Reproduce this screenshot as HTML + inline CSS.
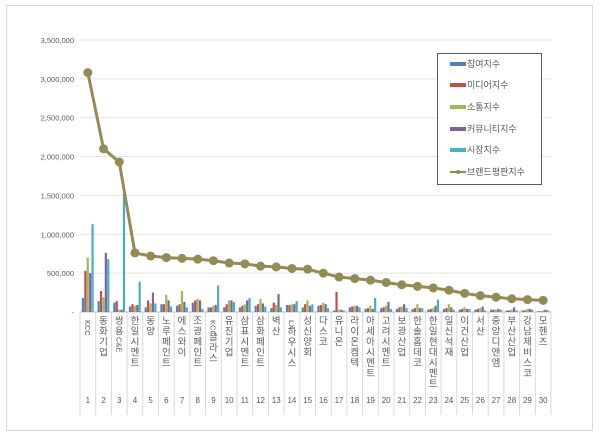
<!DOCTYPE html>
<html><head><meta charset="utf-8"><style>
body{margin:0;background:#fff;}
svg text{font-family:"Liberation Sans","Noto Sans CJK KR",sans-serif;}
</style></head><body>
<svg id="s" width="600" height="435" xmlns="http://www.w3.org/2000/svg">
<rect x="6.5" y="5.5" width="586" height="425" fill="#fff" stroke="#d9d9d9"/>
<g id="g"></g>
<rect x="437.5" y="53.5" width="104" height="131" fill="#fff" stroke="#595959"/>
<g font-size="9" fill="#595959">
<rect x="450" y="62" width="16" height="4" fill="#4f81bd"/><text x="467" y="67">참여지수</text>
<rect x="450" y="83" width="16" height="4" fill="#c0504d"/><text x="467" y="88">미디어지수</text>
<rect x="450" y="105" width="16" height="4" fill="#9bbb59"/><text x="467" y="110">소통지수</text>
<rect x="450" y="127" width="16" height="4" fill="#8064a2"/><text x="467" y="132">커뮤니티지수</text>
<rect x="450" y="148" width="16" height="4" fill="#4bacc6"/><text x="467" y="153">시장지수</text>
<line x1="450" y1="172" x2="466" y2="172" stroke="#948a54" stroke-width="2"/><circle cx="458" cy="172" r="2" fill="#948a54"/><text x="467" y="175">브랜드평판지수</text>
</g>
</svg>
<script>
var g=document.getElementById('g'),h='';
var y0=312,k=38.86/500;
function Y(v){return y0-v*k;}
var L=80,W=15.7;
for(var i=0;i<=7;i++){var y=Y(i*500);h+='<line x1="'+L+'" x2="552" y1="'+y+'" y2="'+y+'" stroke="#e3e3e3"/>';
h+='<text x="74" y="'+(y+3)+'" font-size="7.5" fill="#595959" text-anchor="end">'+(i?(i*500000).toLocaleString('en-US'):'-')+'</text>';}
var names=["KCC","동화기업","쌍용C&E","한일시멘트","동양","노루페인트","에스와이","조광페인트","KCC글라스","유진기업","삼표시멘트","삼화페인트","벽산","LX하우시스","성신양회","다스코","유니온","라이온켐텍","아세아시멘트","고려시멘트","보광산업","한솔홈데코","한일현대시멘트","일신석재","이건산업","서산","중앙디앤엠","부산산업","강남제비스코","모헨즈"];
var bars=[[180,530,700,500,1130],[140,270,190,760,680],[120,140,30,30,1530],[70,100,80,90,390],[60,150,110,250,110],[100,100,220,150,70],[80,100,270,130,60],[120,150,170,150,40],[60,60,80,90,340],[60,100,150,150,130],[60,80,100,150,180],[80,100,170,110,70],[50,120,90,230,60],[90,90,100,100,140],[60,100,150,80,100],[80,90,120,100,50],[20,260,30,30,20],[60,70,80,80,60],[40,50,80,40,180],[50,60,80,130,40],[40,60,70,100,50],[40,50,100,50,50],[30,40,50,80,160],[40,50,100,60,30],[30,40,60,40,40],[30,40,50,70,20],[30,30,30,40,30],[20,20,30,60,20],[20,20,40,40,30],[10,10,20,30,20]];
var line=[3080,2100,1930,760,720,700,690,680,660,630,620,590,580,560,550,500,450,430,410,380,350,330,310,280,240,210,190,170,160,150];
var cols=["#4f81bd","#c0504d","#9bbb59","#8064a2","#4bacc6"];
for(var i=0;i<=30;i++){var x=L+i*W;h+='<line x1="'+x+'" x2="'+x+'" y1="312" y2="415" stroke="#d9d9d9"/>';}
h+='<line x1="'+L+'" x2="'+(L+30*W)+'" y1="312" y2="312" stroke="#bfbfbf"/>';
var pts=[];
for(var i=0;i<30;i++){var cx=L+i*W+W/2;
 for(var j=0;j<5;j++){var v=bars[i][j];h+='<rect x="'+(cx-6+j*2.4)+'" y="'+Y(v)+'" width="2.2" height="'+(v*k)+'" fill="'+cols[j]+'"/>';}
 h+='<text x="'+cx+'" y="403" font-size="8" fill="#595959" text-anchor="middle">'+(i+1)+'</text>';
 var n=names[i],yy=324;
 if(/^[A-Z]/.test(n)){var m=n.match(/^[A-Z&]+/)[0];h+='<text transform="translate('+(cx-3)+','+(yy-4)+') rotate(90)" font-size="7.5" fill="#595959">'+m.replace('&','&amp;')+'</text>';yy+=m.length*5.5;n=n.slice(m.length);}
 var chars=n.split('');for(var c=0;c<chars.length;c++){var ch=chars[c];if(/[A-Z&]/.test(ch)){var r=n.slice(c);h+='<text transform="translate('+(cx-3)+','+(yy-8)+') rotate(90)" font-size="7.5" fill="#595959">'+r.replace('&','&amp;')+'</text>';break;}h+='<text x="'+cx+'" y="'+yy+'" font-size="9.5" fill="#595959" text-anchor="middle">'+ch+'</text>';yy+=10.5;}
 pts.push(cx+','+Y(line[i]));}
h+='<polyline points="'+pts.join(' ')+'" fill="none" stroke="#948a54" stroke-width="3"/>';
pts.forEach(function(p){var a=p.split(',');h+='<circle cx="'+a[0]+'" cy="'+a[1]+'" r="4.5" fill="#948a54"/>';});
g.innerHTML=h;
</script>
</body></html>
